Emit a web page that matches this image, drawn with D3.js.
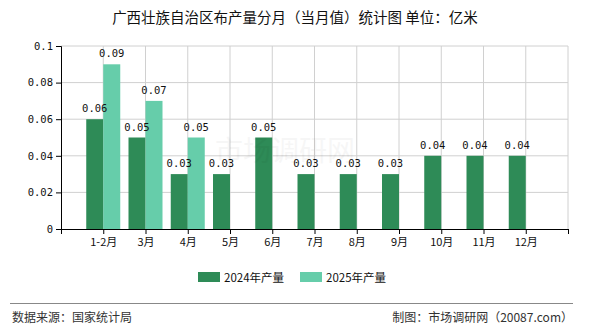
<!DOCTYPE html>
<html>
<head>
<meta charset="utf-8">
<script src="https://cdn.jsdelivr.net/npm/d3@7/dist/d3.min.js"></script>
<style>
  html, body { margin: 0; padding: 0; background: #fff; }
  svg { display: block; }
</style>
</head>
<body>
<svg id="chart" width="590" height="330"></svg>
<script>
// Monthly cloth output in Guangxi (unit: 100 million metres)
const months = ["1-2月", "3月", "4月", "5月", "6月", "7月", "8月", "9月", "10月", "11月", "12月"];
const output2024 = [0.06, 0.05, 0.03, 0.03, 0.05, 0.03, 0.03, 0.03, 0.04, 0.04, 0.04];
const output2025 = [0.09, 0.07, 0.05, null, null, null, null, null, null, null, null];
const yTicks = [0, 0.02, 0.04, 0.06, 0.08, 0.1];
const seriesNames = ["2024年产量", "2025年产量"];
const seriesColors = ["#2e8b57", "#66cdaa"];

(function draw() {
  const svg = d3.select("#chart");
  const plotLeft = 61, plotRight = 568, plotTop = 46, plotBottom = 229;
  const monoFont = "'DejaVu Sans Mono', 'Liberation Mono', monospace";
  const cjkFont = "'Noto Sans CJK SC', 'Noto Sans', sans-serif";

  // x positions: one slot per month, slot 0 is left empty at the axis
  const x = d3.scaleLinear().domain([0, months.length + 1]).range([plotLeft, plotRight]);
  const y = d3.scaleLinear().domain([0, 0.1]).range([plotBottom, plotTop]);
  const barW = 17;

  // title
  svg.append("text")
    .attr("x", 295).attr("y", 23)
    .attr("text-anchor", "middle")
    .attr("font-family", cjkFont).attr("font-size", 14.5)
    .attr("fill", "#111")
    .text("广西壮族自治区布产量分月（当月值）统计图 单位：亿米");

  // gridlines
  const grid = svg.append("g");
  grid.selectAll("line.h").data(yTicks.filter(d => d > 0)).join("line")
    .attr("x1", plotLeft).attr("x2", plotRight)
    .attr("y1", d => y(d)).attr("y2", d => y(d))
    .attr("stroke", "#d0d0d0").attr("stroke-width", 1);
  grid.selectAll("line.v").data(d3.range(1, months.length + 2)).join("line")
    .attr("x1", d => x(d)).attr("x2", d => x(d))
    .attr("y1", plotTop).attr("y2", plotBottom)
    .attr("stroke", "#d0d0d0").attr("stroke-width", 1);

  // bars
  const bars = svg.append("g");
  bars.selectAll("rect.s0").data(output2024).join("rect")
    .attr("x", (d, i) => x(i + 1) - barW)
    .attr("y", d => y(d))
    .attr("width", barW)
    .attr("height", d => y(0) - y(d))
    .attr("fill", seriesColors[0]);
  const s1 = output2025.map((v, i) => ({v, i})).filter(d => d.v != null);
  bars.selectAll("rect.s1").data(s1).join("rect")
    .attr("x", d => x(d.i + 1))
    .attr("y", d => y(d.v))
    .attr("width", barW)
    .attr("height", d => y(0) - y(d.v))
    .attr("fill", seriesColors[1]);

  // faint site watermark over the plot
  svg.append("text")
    .attr("x", 215).attr("y", 161)
    .attr("font-family", cjkFont).attr("font-size", 28)
    .attr("fill", "#000").attr("opacity", 0.03)
    .text("市场调研网");

  // value labels
  const labels = svg.append("g")
    .attr("font-family", monoFont).attr("font-size", 10.5)
    .attr("fill", "#111").attr("text-anchor", "middle");
  labels.selectAll("text.s0").data(output2024).join("text")
    .attr("x", (d, i) => x(i + 1) - barW / 2)
    .attr("y", d => y(d) - 7)
    .text(d => d.toFixed(2));
  labels.selectAll("text.s1").data(s1).join("text")
    .attr("x", d => x(d.i + 1) + barW / 2)
    .attr("y", d => y(d.v) - 7)
    .text(d => d.v.toFixed(2));

  // y axis
  const yAxis = d3.axisLeft(y).tickValues(yTicks).tickSize(5).tickPadding(3)
    .tickFormat(d => d === 0 ? "0" : String(+d.toFixed(2)));
  const yg = svg.append("g").attr("transform", `translate(${plotLeft},0)`).call(yAxis);
  yg.select(".domain").attr("stroke", "#000");
  yg.selectAll(".tick line").attr("stroke", "#000");
  yg.selectAll("text").attr("font-family", monoFont).attr("font-size", 10.5).attr("fill", "#111");

  // x axis
  const xAxis = d3.axisBottom(x).tickValues(d3.range(0, months.length + 2)).tickSize(5).tickPadding(4)
    .tickFormat(d => (d >= 1 && d <= months.length) ? months[d - 1] : "");
  const xg = svg.append("g").attr("transform", `translate(0,${plotBottom})`).call(xAxis);
  xg.select(".domain").attr("stroke", "#000");
  xg.selectAll(".tick line").attr("stroke", "#000");
  xg.selectAll("text").attr("font-family", cjkFont).attr("font-size", 11).attr("fill", "#111");

  // legend
  const legendItems = [{x: 198, t: 224}, {x: 300, t: 326}];
  const lg = svg.append("g");
  legendItems.forEach((p, i) => {
    lg.append("rect").attr("x", p.x).attr("y", 272).attr("width", 22).attr("height", 10)
      .attr("fill", seriesColors[i]);
    lg.append("text").attr("x", p.t).attr("y", 281.5)
      .attr("font-family", cjkFont).attr("font-size", 11.5).attr("fill", "#111")
      .text(seriesNames[i]);
  });

  // footer
  svg.append("line").attr("x1", 10).attr("x2", 573).attr("y1", 303.5).attr("y2", 303.5)
    .attr("stroke", "#888").attr("stroke-width", 1);
  svg.append("text").attr("x", 12).attr("y", 322)
    .attr("font-family", cjkFont).attr("font-size", 12).attr("fill", "#333")
    .text("数据来源：国家统计局");
  svg.append("text").attr("x", 573).attr("y", 322).attr("text-anchor", "end")
    .attr("font-family", cjkFont).attr("font-size", 12).attr("fill", "#333")
    .text("制图：市场调研网（20087.com）");
})();
</script>
</body>
</html>
